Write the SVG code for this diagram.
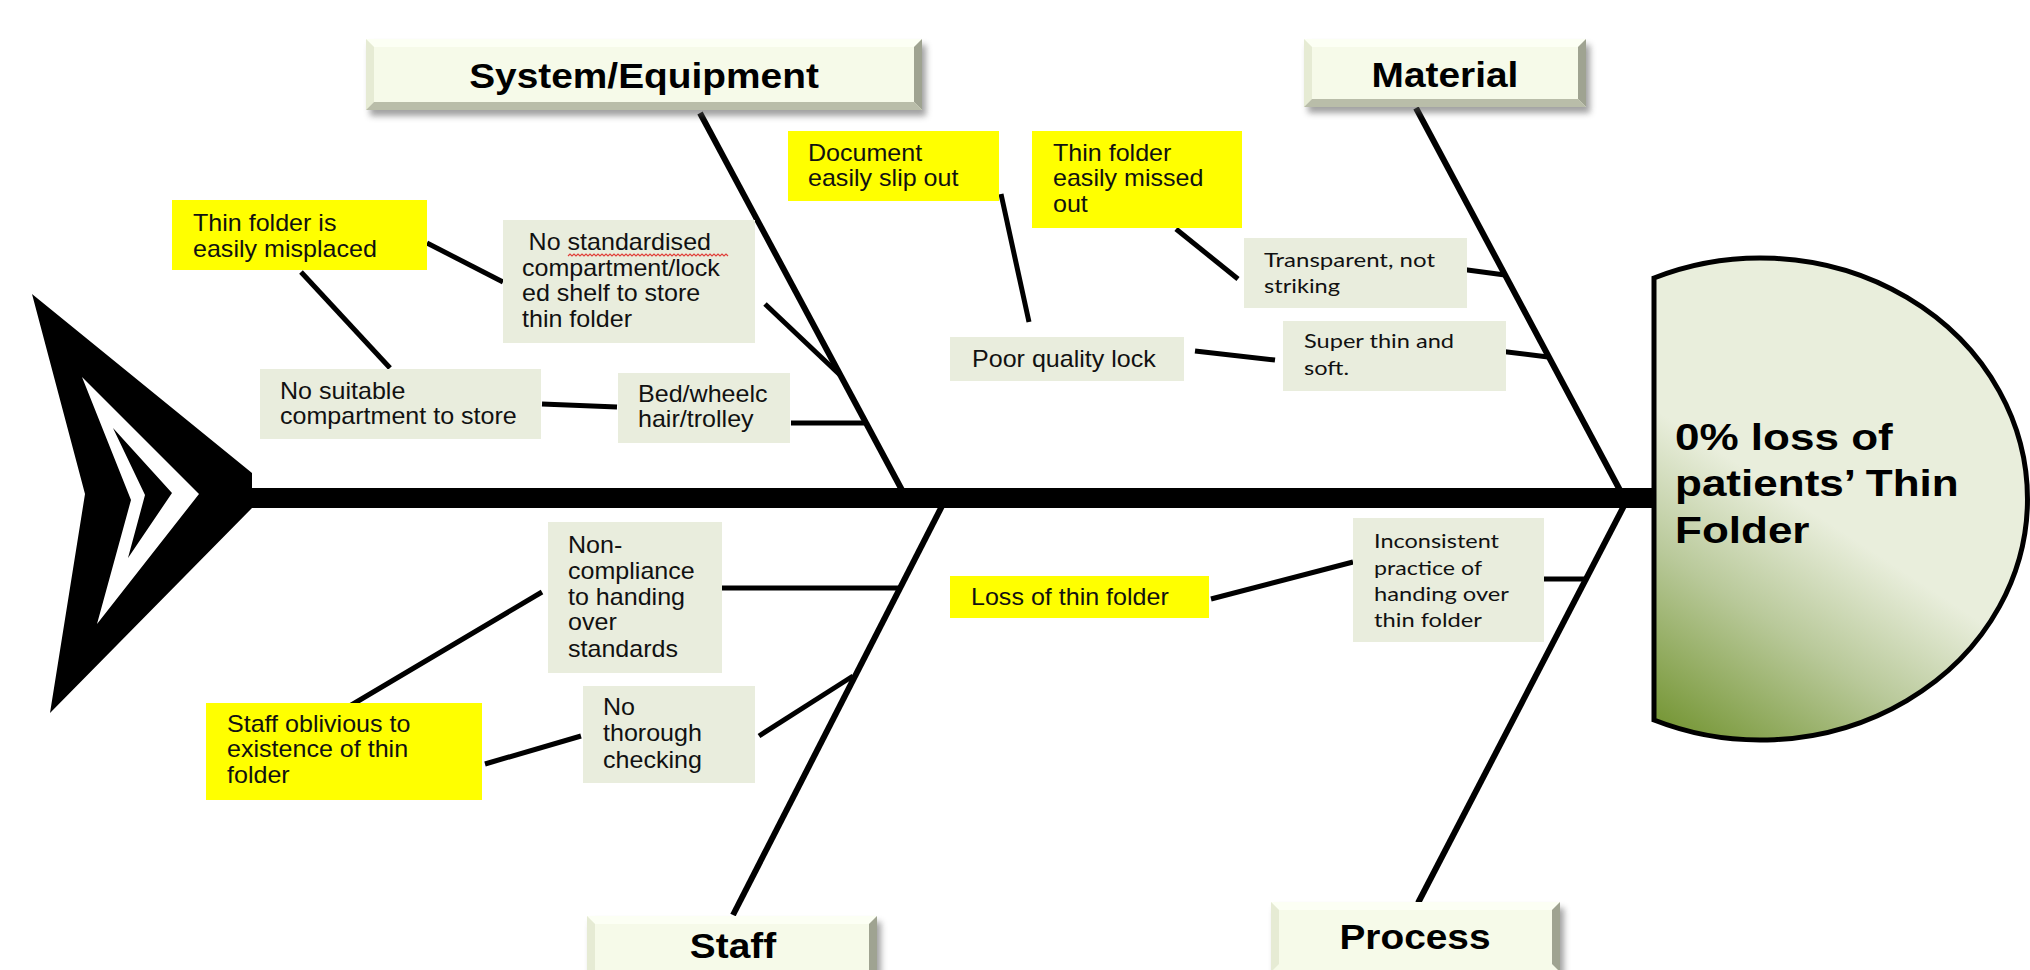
<svg xmlns="http://www.w3.org/2000/svg" width="2030" height="970" viewBox="0 0 2030 970">
<style>
.y{fill:#ffff00}
.g{fill:#e9eddd}
.t{font-family:"Liberation Sans",Arial,sans-serif;font-size:23px;fill:#111}
.c{font-family:Lato,"Liberation Sans",sans-serif;font-size:20px;fill:#111}
.cat{font-family:"Liberation Sans",Arial,sans-serif;font-weight:bold;font-size:35px;text-anchor:middle;fill:#000}
.hd{font-family:"Liberation Sans",Arial,sans-serif;font-weight:bold;font-size:37px;fill:#000}
.bone{stroke:#000;stroke-width:6;fill:none}
.con{stroke:#000;stroke-width:5;fill:none}
.face{fill:#f6fae9}
.bt{fill:#fcfff4}
.bl{fill:#e6ebd4}
.br{fill:#9fa391}
.bb{fill:#b9bda9}
.sh{fill:#555;opacity:0.55;filter:url(#blur)}
</style>
<defs>
<filter id="blur" x="-10%" y="-30%" width="120%" height="160%"><feGaussianBlur stdDeviation="3"/></filter>
<linearGradient id="headGrad" gradientUnits="userSpaceOnUse" x1="1840" y1="530" x2="1700" y2="745">
<stop offset="0" stop-color="#e9eedc"/>
<stop offset="0.45" stop-color="#b9c99a"/>
<stop offset="1" stop-color="#789839"/>
</linearGradient>
</defs>
<rect width="2030" height="970" fill="#ffffff"/>

<g id="connectors">
<rect x="250" y="488" width="1406" height="20" fill="#000"/>
<path class="bone" d="M700,113 L903,492"/>
<path class="bone" d="M1416,108 L1622,494"/>
<path class="bone" d="M942,506 L733,915"/>
<path class="bone" d="M1627,500 L1418,903"/>
<path class="con" d="M765,304 L840,375"/>
<path class="con" d="M791,423 L864,423"/>
<path class="con" d="M427,243 L503,282"/>
<path class="con" d="M301,272 L390,368"/>
<path class="con" d="M542,404 L617,407"/>
<path class="con" d="M1001,194 L1029,322"/>
<path class="con" d="M1176,229 L1238,279"/>
<path class="con" d="M1195,351 L1275,360"/>
<path class="con" d="M1460,269 L1505,275"/>
<path class="con" d="M1499,351 L1548,357"/>
<path class="con" d="M722,588 L902,588"/>
<path class="con" d="M759,736 L853,676"/>
<path class="con" d="M348,707 L542,592"/>
<path class="con" d="M485,764 L581,736"/>
<path class="con" d="M1211,599 L1353,562"/>
<path class="con" d="M1544,579 L1586,579"/>
</g>

<g id="fishtail">
<polygon points="32,294 252,473 252,508 50,713 85,494" fill="#000"/>
<polygon points="82,377 199,494 97,624 131,500" fill="#fff"/>
<polygon points="113,428 172,493 128,558 145,495" fill="#000"/>
</g>

<g id="head">
<path d="M1654,278 A267,241 0 1,1 1654,720 Z" fill="url(#headGrad)" stroke="#000" stroke-width="5"/>
<text class="hd" transform="translate(1675,450) scale(1.19,1)"><tspan x="0" y="0">0% loss of</tspan><tspan x="0" y="46.5">patients’ Thin</tspan><tspan x="0" y="93">Folder</tspan></text>
</g>

<g id="cat-system">
<rect class="sh" x="370" y="45" width="556" height="71"/>
<rect class="face" x="366" y="39" width="556" height="71"/>
<polygon class="bt" points="366,39 922,39 914,47 374,47"/>
<polygon class="bl" points="366,39 374,47 374,102 366,110"/>
<polygon class="br" points="922,39 922,110 914,102 914,47"/>
<polygon class="bb" points="366,110 922,110 914,102 374,102"/>
<text class="cat" transform="translate(644,88) scale(1.11,1)">System/Equipment</text>
</g>

<g id="cat-material">
<rect class="sh" x="1308" y="45" width="282" height="68"/>
<rect class="face" x="1304" y="39" width="282" height="68"/>
<polygon class="bt" points="1304,39 1586,39 1578,47 1312,47"/>
<polygon class="bl" points="1304,39 1312,47 1312,99 1304,107"/>
<polygon class="br" points="1586,39 1586,107 1578,99 1578,47"/>
<polygon class="bb" points="1304,107 1586,107 1578,99 1312,99"/>
<text class="cat" transform="translate(1445,87) scale(1.11,1)">Material</text>
</g>

<g id="cat-staff">
<rect class="sh" x="591" y="922" width="290" height="70"/>
<rect class="face" x="587" y="916" width="290" height="70"/>
<polygon class="bt" points="587,916 877,916 869,924 595,924"/>
<polygon class="bl" points="587,916 595,924 595,978 587,986"/>
<polygon class="br" points="877,916 877,986 869,978 869,924"/>
<text class="cat" transform="translate(733,958) scale(1.11,1)">Staff</text>
</g>

<g id="cat-process">
<rect class="sh" x="1275" y="908" width="289" height="70"/>
<rect class="face" x="1271" y="902" width="289" height="70"/>
<polygon class="bt" points="1271,902 1560,902 1552,910 1279,910"/>
<polygon class="bl" points="1271,902 1279,910 1279,964 1271,972"/>
<polygon class="br" points="1560,902 1560,972 1552,964 1552,910"/>
<text class="cat" transform="translate(1415,949) scale(1.11,1)">Process</text>
</g>

<g id="y-misplaced">
<rect class="y" x="172" y="200" width="255" height="70"/>
<text class="t" transform="translate(193,231) scale(1.09,1)"><tspan x="0" y="0">Thin folder is</tspan><tspan x="0" y="26">easily misplaced</tspan></text>
</g>

<g id="y-document">
<rect class="y" x="788" y="131" width="211" height="70"/>
<text class="t" transform="translate(808,161) scale(1.09,1)"><tspan x="0" y="0">Document</tspan><tspan x="0" y="25">easily slip out</tspan></text>
</g>

<g id="y-missed">
<rect class="y" x="1032" y="131" width="210" height="97"/>
<text class="t" transform="translate(1053,161) scale(1.09,1)"><tspan x="0" y="0">Thin folder</tspan><tspan x="0" y="25.5">easily missed</tspan><tspan x="0" y="51">out</tspan></text>
</g>

<g id="y-loss">
<rect class="y" x="950" y="576" width="259" height="42"/>
<text class="t" transform="translate(971,605) scale(1.09,1)">Loss of thin folder</text>
</g>

<g id="y-oblivious">
<rect class="y" x="206" y="703" width="276" height="97"/>
<text class="t" transform="translate(227,732) scale(1.09,1)"><tspan x="0" y="0">Staff oblivious to</tspan><tspan x="0" y="25.5">existence of thin</tspan><tspan x="0" y="51">folder</tspan></text>
</g>

<g id="g-standardised">
<rect class="g" x="503" y="220" width="252" height="123"/>
<text class="t" transform="translate(522,250) scale(1.09,1)"><tspan x="6" y="0">No standardised</tspan><tspan x="0" y="25.7">compartment/lock</tspan><tspan x="0" y="51.4">ed shelf to store</tspan><tspan x="0" y="77">thin folder</tspan></text>
<path d="M568,256 l2,-2 l2,2 l2,-2 l2,2 l2,-2 l2,2 l2,-2 l2,2 l2,-2 l2,2 l2,-2 l2,2 l2,-2 l2,2 l2,-2 l2,2 l2,-2 l2,2 l2,-2 l2,2 l2,-2 l2,2 l2,-2 l2,2 l2,-2 l2,2 l2,-2 l2,2 l2,-2 l2,2 l2,-2 l2,2 l2,-2 l2,2 l2,-2 l2,2 l2,-2 l2,2 l2,-2 l2,2 l2,-2 l2,2 l2,-2 l2,2 l2,-2 l2,2 l2,-2 l2,2 l2,-2 l2,2 l2,-2 l2,2 l2,-2 l2,2 l2,-2 l2,2 l2,-2 l2,2 l2,-2 l2,2 l2,-2 l2,2 l2,-2 l2,2 l2,-2 l2,2 l2,-2 l2,2 l2,-2 l2,2 l2,-2 l2,2 l2,-2 l2,2 l2,-2 l2,2 l2,-2 l2,2 l2,-2 l2,2" fill="none" stroke="#e0403a" stroke-width="1.2"/>
</g>

<g id="g-suitable">
<rect class="g" x="260" y="369" width="281" height="70"/>
<text class="t" transform="translate(280,399) scale(1.09,1)"><tspan x="0" y="0">No suitable</tspan><tspan x="0" y="25">compartment to store</tspan></text>
</g>

<g id="g-bed">
<rect class="g" x="618" y="373" width="172" height="70"/>
<text class="t" transform="translate(638,402) scale(1.09,1)"><tspan x="0" y="0">Bed/wheelc</tspan><tspan x="0" y="25">hair/trolley</tspan></text>
</g>

<g id="g-lock">
<rect class="g" x="950" y="337" width="234" height="44"/>
<text class="t" transform="translate(972,367) scale(1.09,1)">Poor quality lock</text>
</g>

<g id="g-noncompliance">
<rect class="g" x="548" y="522" width="174" height="151"/>
<text class="t" transform="translate(568,553) scale(1.09,1)"><tspan x="0" y="0">Non-</tspan><tspan x="0" y="26">compliance</tspan><tspan x="0" y="52">to handing</tspan><tspan x="0" y="77.5">over</tspan><tspan x="0" y="104">standards</tspan></text>
</g>

<g id="g-thorough">
<rect class="g" x="583" y="686" width="172" height="97"/>
<text class="t" transform="translate(603,715) scale(1.09,1)"><tspan x="0" y="0">No</tspan><tspan x="0" y="26.5">thorough</tspan><tspan x="0" y="53">checking</tspan></text>
</g>

<g id="g-transparent">
<rect class="g" x="1244" y="238" width="223" height="70"/>
<text class="c"><tspan x="1264" y="267" textLength="171" lengthAdjust="spacingAndGlyphs">Transparent, not</tspan><tspan x="1264" y="293" textLength="76" lengthAdjust="spacingAndGlyphs">striking</tspan></text>
</g>

<g id="g-superthin">
<rect class="g" x="1283" y="321" width="223" height="70"/>
<text class="c"><tspan x="1304" y="348" textLength="150" lengthAdjust="spacingAndGlyphs">Super thin and</tspan><tspan x="1304" y="375" textLength="45" lengthAdjust="spacingAndGlyphs">soft.</tspan></text>
</g>

<g id="g-inconsistent">
<rect class="g" x="1353" y="518" width="191" height="124"/>
<text class="c"><tspan x="1374" y="548" textLength="125" lengthAdjust="spacingAndGlyphs">Inconsistent</tspan><tspan x="1374" y="575" textLength="108" lengthAdjust="spacingAndGlyphs">practice of</tspan><tspan x="1374" y="601" textLength="135" lengthAdjust="spacingAndGlyphs">handing over</tspan><tspan x="1374" y="627" textLength="108" lengthAdjust="spacingAndGlyphs">thin folder</tspan></text>
</g>
</svg>
